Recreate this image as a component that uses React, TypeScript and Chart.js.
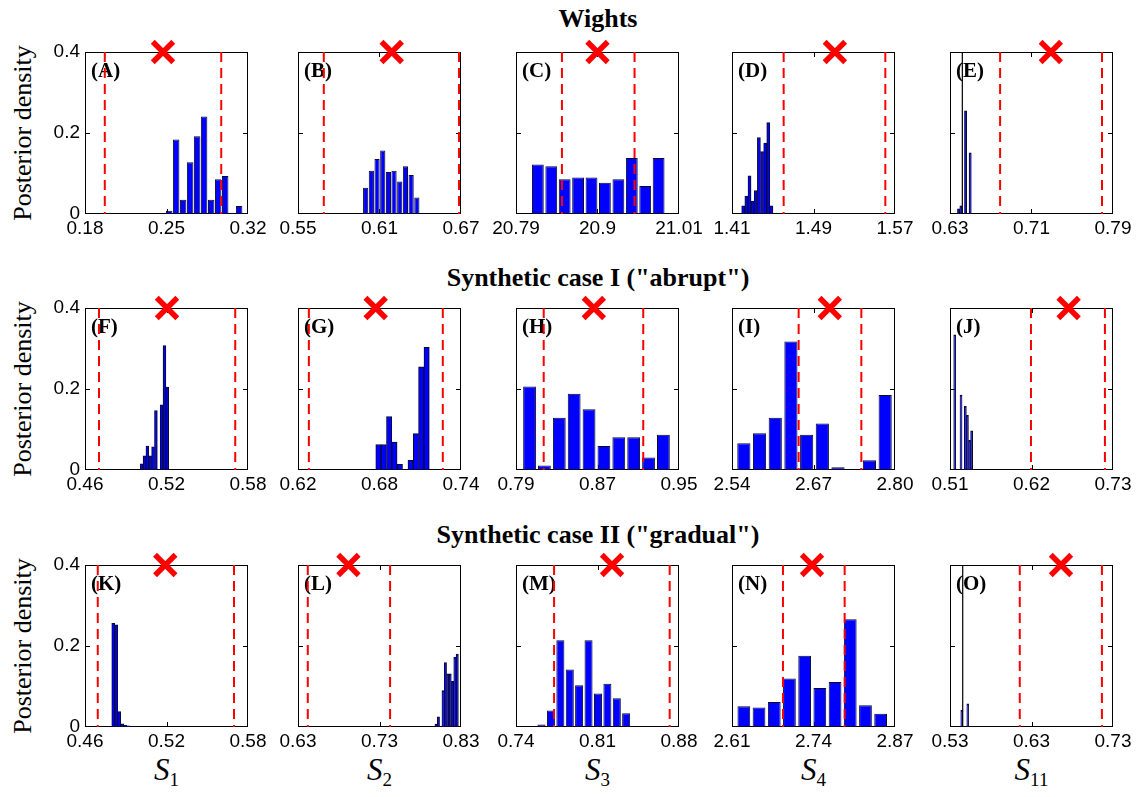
import React, { useEffect, useRef } from "react";
import { Chart, registerables } from "chart.js";
Chart.register(...registerables);

// ---------------- DATA ----------------
const rowTitles = ["Wights", 'Synthetic case I ("abrupt")', 'Synthetic case II ("gradual")'];
const paramSubs = ["1", "2", "3", "4", "11"];
const yTicks = [0, 0.2, 0.4];
const yTickText = ["0", "0.2", "0.4"];

// Panel A
const binsA = [0.2523, 0.2583, 0.2643, 0.2703, 0.2763, 0.2823, 0.2884, 0.2944, 0.3004, 0.3064, 0.3124];
const densA = [0.008, 0.184, 0.035, 0.128, 0.192, 0.241, 0.035, 0.086, 0.094, 0.003, 0.02];
const truthA = 0.247;
const boundsA = [0.197, 0.297];
const ticksA = [0.18, 0.25, 0.32];
const tickTextA = ["0.18", "0.25", "0.32"];
// Panel B
const binsB = [0.5998, 0.604, 0.6082, 0.6124, 0.6166, 0.6207, 0.6249, 0.6291, 0.6333, 0.6375];
const densB = [0.065, 0.107, 0.136, 0.157, 0.104, 0.107, 0.08, 0.118, 0.096, 0.041];
const truthB = 0.619;
const boundsB = [0.569, 0.6685];
const ticksB = [0.55, 0.61, 0.67];
const tickTextB = ["0.55", "0.61", "0.67"];
// Panel C
const binsC = [20.8195, 20.8376, 20.8557, 20.8738, 20.8919, 20.91, 20.9282, 20.9463, 20.9644, 20.9825];
const densC = [0.122, 0.118, 0.086, 0.09, 0.09, 0.077, 0.086, 0.138, 0.069, 0.138];
const truthC = 20.9;
const boundsC = [20.852, 20.95];
const ticksC = [20.79, 20.9, 21.01];
const tickTextC = ["20.79", "20.9", "21.01"];
// Panel D
const binsD = [1.421, 1.4241, 1.4272, 1.4302, 1.4333, 1.4364, 1.4395, 1.4426, 1.4456, 1.4487];
const densD = [0.02, 0.044, 0.094, 0.031, 0.058, 0.189, 0.154, 0.175, 0.226, 0.02];
const truthD = 1.511;
const boundsD = [1.4607, 1.5605];
const ticksD = [1.41, 1.49, 1.57];
const tickTextD = ["1.41", "1.49", "1.57"];
// Panel E
const binsE = [0.6384, 0.6407, 0.643, 0.6453, 0.6475, 0.6498];
const densE = [0.013, 0.02, 0, 0.255, 0, 0.151];
const refLineE = 0.6421;
const truthE = 0.729;
const boundsE = [0.6792, 0.7792];
const ticksE = [0.63, 0.71, 0.79];
const tickTextE = ["0.63", "0.71", "0.79"];
// Panel F
const binsF = [0.5017, 0.5038, 0.5059, 0.508, 0.5101, 0.5122, 0.5143, 0.5164, 0.5185, 0.5206];
const densF = [0.015, 0.035, 0.059, 0.035, 0.057, 0.147, 0, 0.161, 0.307, 0.205];
const truthF = 0.5204;
const boundsF = [0.4703, 0.5706];
const ticksF = [0.46, 0.52, 0.58];
const tickTextF = ["0.46", "0.52", "0.58"];
// Panel G
const binsG = [0.6792, 0.6831, 0.6871, 0.691, 0.695, 0.6989, 0.7029, 0.7068, 0.7107, 0.7147];
const densG = [0.063, 0.063, 0.132, 0.069, 0.014, 0, 0.024, 0.09, 0.255, 0.303];
const truthG = 0.6772;
const boundsG = [0.628, 0.7266];
const ticksG = [0.62, 0.68, 0.74];
const tickTextG = ["0.62", "0.68", "0.74"];
// Panel H
const binsH = [0.8033, 0.8179, 0.8325, 0.8471, 0.8617, 0.8763, 0.8909, 0.9055, 0.9201, 0.9347];
const densH = [0.206, 0.011, 0.129, 0.188, 0.15, 0.059, 0.081, 0.081, 0.031, 0.087];
const truthH = 0.8664;
const boundsH = [0.8172, 0.9149];
const ticksH = [0.79, 0.87, 0.95];
const tickTextH = ["0.79", "0.87", "0.95"];
// Panel I
const binsI = [2.5589, 2.5839, 2.609, 2.634, 2.6591, 2.6841, 2.7091, 2.7342, 2.7592, 2.7843];
const densI = [0.066, 0.091, 0.129, 0.317, 0.087, 0.115, 0.007, 0, 0.024, 0.185];
const truthI = 2.696;
const boundsI = [2.6463, 2.7463];
const ticksI = [2.54, 2.67, 2.8];
const tickTextI = ["2.54", "2.67", "2.80"];
// Panel J
const binsJ = [0.5164, 0.5192, 0.5221, 0.5249, 0.5278, 0.5307, 0.5335, 0.5364, 0.5392];
const densJ = [0.334, 0, 0, 0.185, 0, 0.157, 0.135, 0.073, 0.097];
const truthJ = 0.6701;
const boundsJ = [0.6193, 0.7191];
const ticksJ = [0.51, 0.62, 0.73];
const tickTextJ = ["0.51", "0.62", "0.73"];
// Panel K
const binsK = [0.4808, 0.483, 0.4852, 0.4874, 0.4897, 0.4919];
const densK = [0.256, 0.252, 0.038, 0.008, 0.004, 0.003];
const truthK = 0.5191;
const boundsK = [0.4694, 0.5697];
const ticksK = [0.46, 0.52, 0.58];
const tickTextK = ["0.46", "0.52", "0.58"];
// Panel L
const binsL = [0.7994, 0.8023, 0.8052, 0.808, 0.8109, 0.8138, 0.8167, 0.8196, 0.8225, 0.8254];
const densL = [0.007, 0.025, 0, 0.09, 0.159, 0.131, 0.131, 0.113, 0.172, 0.18];
const truthL = 0.6919;
const boundsL = [0.642, 0.743];
const ticksL = [0.63, 0.73, 0.83];
const tickTextL = ["0.63", "0.73", "0.83"];
// Panel M
const binsM = [0.7619, 0.77, 0.7781, 0.7862, 0.7942, 0.8023, 0.8104, 0.8185, 0.8266, 0.8346];
const densM = [0.006, 0.041, 0.214, 0.142, 0.103, 0.214, 0.083, 0.107, 0.071, 0.034];
const truthM = 0.8225;
const boundsM = [0.7727, 0.872];
const ticksM = [0.74, 0.81, 0.88];
const tickTextM = ["0.74", "0.81", "0.88"];
// Panel N
const binsN = [2.6289, 2.6531, 2.6774, 2.7016, 2.7259, 2.7501, 2.7744, 2.7986, 2.8229, 2.8471];
const densN = [0.051, 0.048, 0.062, 0.12, 0.176, 0.096, 0.111, 0.266, 0.054, 0.033];
const truthN = 2.7376;
const boundsN = [2.6913, 2.7897];
const ticksN = [2.61, 2.74, 2.87];
const tickTextN = ["2.61", "2.74", "2.87"];
// Panel O
const binsO = [0.5444, 0.5469, 0.5493, 0.5518];
const densO = [0.041, 0, 0, 0.057];
const refLineO = 0.5456;
const truthO = 0.6662;
const boundsO = [0.6156, 0.7164];
const ticksO = [0.53, 0.63, 0.73];
const tickTextO = ["0.53", "0.63", "0.73"];

type PanelData = {
  letter: string;
  bins: number[];
  dens: number[];
  truth: number;
  bounds: number[];
  ticks: number[];
  tickText: string[];
  refLine?: number;
};

const panels: PanelData[] = [
  { letter: "A", bins: binsA, dens: densA, truth: truthA, bounds: boundsA, ticks: ticksA, tickText: tickTextA },
  { letter: "B", bins: binsB, dens: densB, truth: truthB, bounds: boundsB, ticks: ticksB, tickText: tickTextB },
  { letter: "C", bins: binsC, dens: densC, truth: truthC, bounds: boundsC, ticks: ticksC, tickText: tickTextC },
  { letter: "D", bins: binsD, dens: densD, truth: truthD, bounds: boundsD, ticks: ticksD, tickText: tickTextD },
  { letter: "E", bins: binsE, dens: densE, truth: truthE, bounds: boundsE, ticks: ticksE, tickText: tickTextE, refLine: refLineE },
  { letter: "F", bins: binsF, dens: densF, truth: truthF, bounds: boundsF, ticks: ticksF, tickText: tickTextF },
  { letter: "G", bins: binsG, dens: densG, truth: truthG, bounds: boundsG, ticks: ticksG, tickText: tickTextG },
  { letter: "H", bins: binsH, dens: densH, truth: truthH, bounds: boundsH, ticks: ticksH, tickText: tickTextH },
  { letter: "I", bins: binsI, dens: densI, truth: truthI, bounds: boundsI, ticks: ticksI, tickText: tickTextI },
  { letter: "J", bins: binsJ, dens: densJ, truth: truthJ, bounds: boundsJ, ticks: ticksJ, tickText: tickTextJ },
  { letter: "K", bins: binsK, dens: densK, truth: truthK, bounds: boundsK, ticks: ticksK, tickText: tickTextK },
  { letter: "L", bins: binsL, dens: densL, truth: truthL, bounds: boundsL, ticks: ticksL, tickText: tickTextL },
  { letter: "M", bins: binsM, dens: densM, truth: truthM, bounds: boundsM, ticks: ticksM, tickText: tickTextM },
  { letter: "N", bins: binsN, dens: densN, truth: truthN, bounds: boundsN, ticks: ticksN, tickText: tickTextN },
  { letter: "O", bins: binsO, dens: densO, truth: truthO, bounds: boundsO, ticks: ticksO, tickText: tickTextO, refLine: refLineO },
];

// ---------------- LAYOUT / STYLE ----------------
const COL_LEFT = [85, 298, 516, 732, 950];
const ROW_TOP = [52, 308, 565];
const BOX_W = 163;
const BOX_H = 162;
const PAD_L = 45;
const PAD_R = 30;
const PAD_T = 20;
const PAD_B = 35;
const BAR_FRAC = [0.93, 0.93, 0.88, 1, 1, 1, 1, 0.86, 0.84, 1, 1, 1, 0.86, 0.84, 1];
const TICK_FONT = '"Liberation Sans", Arial, sans-serif';
const SERIF = '"Liberation Serif", "Times New Roman", serif';

const boxPlugin = {
  id: "matlabBox",
  beforeDatasetsDraw(chart: any, _args: any, opts: any) {
    const { ctx, chartArea, scales } = chart;
    const { left, top, right, bottom } = chartArea;
    ctx.save();
    ctx.fillStyle = "#000";
    ctx.font = `bold 21px ${SERIF}`;
    ctx.textBaseline = "alphabetic";
    ctx.textAlign = "left";
    ctx.fillText(`(${opts.letter})`, left + 6, top + 25);
    ctx.strokeStyle = "#000";
    ctx.lineWidth = 1;
    ctx.strokeRect(left + 0.5, top + 0.5, right - left - 1, bottom - top - 1);
    const tl = 5;
    const xm = Math.round(scales.x.getPixelForValue(opts.midTick)) + 0.5;
    const ym = Math.round(scales.y.getPixelForValue(0.2)) + 0.5;
    ctx.beginPath();
    ctx.moveTo(xm, bottom);
    ctx.lineTo(xm, bottom - tl);
    ctx.moveTo(xm, top);
    ctx.lineTo(xm, top + tl);
    ctx.moveTo(left, ym);
    ctx.lineTo(left + tl, ym);
    ctx.moveTo(right, ym);
    ctx.lineTo(right - tl, ym);
    ctx.stroke();
    ctx.restore();
  },
};

function Panel({ p, col, row, frac }: { p: PanelData; col: number; row: number; frac: number }) {
  const ref = useRef<HTMLCanvasElement>(null);
  const cw = BOX_W + PAD_L + PAD_R;
  const chh = BOX_H + PAD_T + PAD_B;
  useEffect(() => {
    if (!ref.current) return;
    const datasets: any[] = [];
    datasets.push({
      type: "scatter",
      data: [{ x: p.truth, y: 0.4 }],
      pointStyle: "crossRot",
      pointRadius: 14.5,
      pointHoverRadius: 14.5,
      pointBorderWidth: 5.5,
      pointHoverBorderWidth: 5.5,
      pointBorderColor: "#ff0000",
      pointBackgroundColor: "#ff0000",
      borderColor: "#ff0000",
      clip: false,
      order: 1,
    });
    for (const b of p.bounds) {
      datasets.push({
        type: "line",
        data: [
          { x: b, y: 0.4 },
          { x: b, y: 0 },
        ],
        borderColor: "#ff0000",
        borderWidth: 2,
        borderDash: [10, 6],
        pointRadius: 0,
        pointHoverRadius: 0,
        clip: false,
        order: 2,
      });
    }
    if (p.refLine !== undefined) {
      datasets.push({
        type: "line",
        data: [
          { x: p.refLine, y: 0.4 },
          { x: p.refLine, y: 0 },
        ],
        borderColor: "#000",
        borderWidth: 1.2,
        pointRadius: 0,
        pointHoverRadius: 0,
        order: 2,
      });
    }
    datasets.push({
      type: "bar",
      data: p.bins.map((x, i) => ({ x, y: p.dens[i] })),
      backgroundColor: "#0000ff",
      borderColor: "#0a0a28",
      borderWidth: 1,
      borderSkipped: false,
      barPercentage: frac,
      categoryPercentage: 1,
      order: 3,
    });
    const chart = new Chart(ref.current, {
      type: "bar",
      data: { datasets },
      plugins: [boxPlugin],
      options: {
        responsive: false,
        animation: false,
        events: [],
        layout: { padding: { left: 0, right: PAD_R, top: PAD_T, bottom: 0 } },
        plugins: {
          legend: { display: false },
          tooltip: { enabled: false },
          matlabBox: { letter: p.letter, midTick: p.ticks[1] },
        } as any,
        scales: {
          x: {
            type: "linear",
            min: p.ticks[0],
            max: p.ticks[2],
            offset: false,
            grid: { display: false, drawTicks: false, offset: false },
            border: { display: false },
            ticks: {
              autoSkip: false,
              maxRotation: 0,
              minRotation: 0,
              padding: 3,
              color: "#000",
              font: { family: TICK_FONT, size: 19 },
              callback: (_v: any, i: number) => p.tickText[i],
            },
            afterBuildTicks: (s: any) => {
              s.ticks = p.ticks.map((v) => ({ value: v }));
            },
            afterFit: (s: any) => {
              s.height = PAD_B;
            },
          },
          y: {
            type: "linear",
            min: 0,
            max: 0.4,
            grid: { display: false, drawTicks: false },
            border: { display: false },
            ticks: {
              display: col === 0,
              padding: 5,
              color: "#000",
              font: { family: TICK_FONT, size: 19 },
              callback: (_v: any, i: number) => yTickText[i],
            },
            afterBuildTicks: (s: any) => {
              s.ticks = yTicks.map((v) => ({ value: v }));
            },
            afterFit: (s: any) => {
              s.width = PAD_L;
            },
          },
        } as any,
      },
    } as any);
    return () => chart.destroy();
  }, []);
  return (
    <canvas
      ref={ref}
      width={cw}
      height={chh}
      style={{
        position: "absolute",
        left: COL_LEFT[col] - PAD_L,
        top: ROW_TOP[row] - PAD_T,
        width: cw,
        height: chh,
      }}
    />
  );
}

export default function App() {
  const titleY = [19, 278, 535];
  return (
    <div
      style={{
        position: "absolute",
        left: 0,
        top: 0,
        width: 1136,
        height: 797,
        background: "#fff",
        overflow: "hidden",
      }}
    >
      {rowTitles.map((t, r) => (
        <div
          key={"t" + r}
          style={{
            position: "absolute",
            left: 598,
            top: titleY[r],
            transform: "translate(-50%, -50%)",
            fontFamily: SERIF,
            fontWeight: "bold",
            fontSize: 26,
            whiteSpace: "nowrap",
            lineHeight: 1,
          }}
        >
          {t}
        </div>
      ))}
      {ROW_TOP.map((top, r) => (
        <div
          key={"y" + r}
          style={{
            position: "absolute",
            left: 23,
            top: top + BOX_H / 2,
            transform: "translate(-50%, -50%) rotate(-90deg)",
            fontFamily: SERIF,
            fontSize: 26,
            whiteSpace: "nowrap",
            lineHeight: 1,
          }}
        >
          Posterior density
        </div>
      ))}
      {paramSubs.map((s, c) => (
        <div
          key={"s" + c}
          style={{
            position: "absolute",
            left: COL_LEFT[c] + BOX_W / 2,
            top: 769,
            transform: "translate(-50%, -50%)",
            fontFamily: SERIF,
            fontSize: 31,
            whiteSpace: "nowrap",
            lineHeight: 1,
          }}
        >
          <i>S</i>
          <span style={{ fontSize: 19, position: "relative", top: 6 }}>{s}</span>
        </div>
      ))}
      {panels.map((p, i) => (
        <Panel key={p.letter} p={p} col={i % 5} row={Math.floor(i / 5)} frac={BAR_FRAC[i]} />
      ))}
    </div>
  );
}
